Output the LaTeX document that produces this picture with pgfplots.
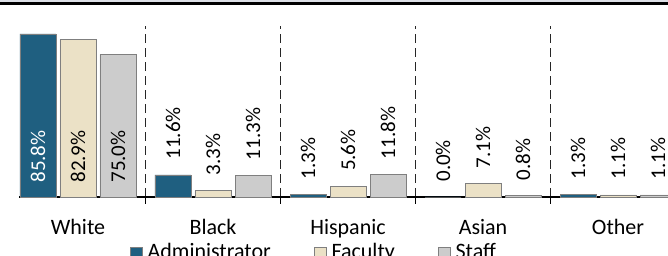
\documentclass[border=0pt]{standalone}
\usepackage{pgfplots}
\pgfplotsset{compat=1.18}
\usepackage{fontspec}
\setmainfont{Carlito}
\definecolor{admin}{HTML}{1F5F80}
\definecolor{fac}{HTML}{EBE1C6}
\definecolor{staff}{HTML}{CCCCCC}
\definecolor{edge}{HTML}{7F7F7F}
\definecolor{topband}{HTML}{DCDFE6}
\begin{document}
\begin{tikzpicture}[x=1pt,y=1pt]
\fontsize{21.5}{25}\selectfont
\begin{axis}[
  at={(19pt,59pt)}, anchor=south west,
  x=135pt, y=1.9pt,
  xmin=-0.437, xmax=4.37, ymin=0, ymax=90,
  /pgf/number format/assume math mode=true,
  axis x line*=bottom, axis y line=none,
  axis line style={black, line width=1.2pt, -},
  xtick={0.5,1.5,2.5,3.5}, xticklabels={},
  tick align=outside, major tick length=7pt,
  tick style={black, line width=0.9pt},
  xmajorgrids, grid style={black!85, line width=0.9pt, dash pattern=on 9pt off 5pt},
  extra x ticks={0,1,2,3,4},
  extra x tick labels={White,Black,Hispanic,Asian,Other},
  extra x tick style={major tick length=0pt, grid=none, tick label style={font=\fontsize{22}{25}\selectfont, yshift=-15pt}},
  ybar, bar width=36pt,
  clip=false,
  visualization depends on={y \as \rawy},
  nodes near coords={\ifdim\rawy pt>50pt\relax\color{\labcol}\fi\pgfmathprintnumber[fixed,fixed zerofill,precision=1]{\pgfplotspointmeta}\%},
  every node near coord/.append style={yshift={ifthenelse(\rawy>50, 14-\rawy*1.9, 15)}, rotate=90, anchor=west, inner sep=0pt, font=\fontsize{21}{24}\selectfont},
  legend style={draw=none, fill=none, at={(axis cs:1.748,-29.4)}, anchor=center,
     legend columns=3, font=\fontsize{22}{25}\selectfont,
     /tikz/every even column/.append style={column sep=41pt}},
  legend image code/.code={\draw[#1, draw=edge, line width=0.6pt] (0pt,-6pt) rectangle (12pt,6pt); \path (15pt,0pt);},
]
\def\labcol{white}
\addplot[fill=admin, draw=edge, line width=0.8pt, bar shift=-40pt] coordinates {(0,85.8) (1,11.6) (2,1.3) (3,0.0) (4,1.3)};
\addlegendentry{Administrator}
\addplot[fill=fac, draw=edge, line width=0.8pt, bar shift=0pt, nodes near coords={\pgfmathprintnumber[fixed,fixed zerofill,precision=1]{\pgfplotspointmeta}\%}] coordinates {(0,82.9) (1,3.3) (2,5.6) (3,7.1) (4,1.1)};
\addlegendentry{Faculty}
\addplot[fill=staff, draw=edge, line width=0.8pt, bar shift=40pt, nodes near coords={\pgfmathprintnumber[fixed,fixed zerofill,precision=1]{\pgfplotspointmeta}\%}] coordinates {(0,75.0) (1,11.3) (2,11.8) (3,0.8) (4,1.1)};
\addlegendentry{Staff}
\end{axis}
\fill[topband] (0,254) rectangle (668,256);
\fill[black] (0,251) rectangle (668,254);
\pgfresetboundingbox
\useasboundingbox (0,0) rectangle (668,256);
\end{tikzpicture}
\end{document}
